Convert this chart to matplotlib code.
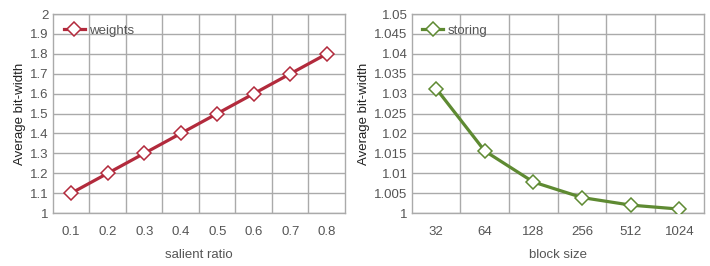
import matplotlib.pyplot as plt
import numpy as np
from matplotlib.ticker import FuncFormatter

plt.rcParams['font.family'] = ['Liberation Sans', 'DejaVu Sans']

# data
salient_ratio = ['0.1', '0.2', '0.3', '0.4', '0.5', '0.6', '0.7', '0.8']
weights_bits = [1.1, 1.2, 1.3, 1.4, 1.5, 1.6, 1.7, 1.8]

block_size = ['32', '64', '128', '256', '512', '1024']
storing_bits = [1.0313, 1.0156, 1.0078, 1.0039, 1.0020, 1.0010]

TEXT = '#555555'
GRID = '#aaaaaa'


def draw_panel(ax, labels, values, color, name, ylim, ystep, xlabel):
    n = len(labels)
    x = np.arange(n) + 0.5
    ax.plot(x, values, color=color, lw=2.3, marker='D', ms=7,
            mfc='white', mec=color, mew=1.1, label=name, zorder=3)
    ax.set_xlim(0, n)
    ax.set_ylim(*ylim)
    ax.set_xticks(x)
    ax.set_xticklabels(labels)
    ax.set_xticks(np.arange(1, n), minor=True)
    ax.set_yticks(np.arange(ylim[0], ylim[1] + ystep / 2, ystep))
    ax.yaxis.set_major_formatter(FuncFormatter(lambda v, p: f'{v:.4g}'))
    ax.grid(axis='y', which='major', color=GRID, lw=1.0)
    ax.grid(axis='x', which='minor', color=GRID, lw=1.0)
    ax.tick_params(which='both', length=0, colors=TEXT, labelsize=9.5)
    ax.tick_params(axis='x', pad=9)
    ax.tick_params(axis='y', pad=3)
    for s in ax.spines.values():
        s.set_color(GRID)
        s.set_linewidth(1.0)
    ax.set_xlabel(xlabel, color=TEXT, fontsize=9.5, labelpad=8)
    ax.set_ylabel('Average bit-width', color='#222222', fontsize=9.5, labelpad=3)
    leg = ax.legend(loc='upper left', frameon=False, fontsize=9.5,
                    handlelength=1.6, handletextpad=0.3,
                    borderaxespad=0.5, borderpad=0.3)
    for t in leg.get_texts():
        t.set_color(TEXT)


fig = plt.figure(figsize=(7.1, 2.66), dpi=100)
ax1 = fig.add_axes([0.0746, 0.199, 0.4113, 0.748])
ax2 = fig.add_axes([0.580, 0.199, 0.411, 0.748])

draw_panel(ax1, salient_ratio, weights_bits, '#b22a3c', 'weights',
           (1.0, 2.0), 0.1, 'salient ratio')
draw_panel(ax2, block_size, storing_bits, '#5e8a32', 'storing',
           (1.0, 1.05), 0.005, 'block size')

fig.savefig('out.png', dpi=100)
